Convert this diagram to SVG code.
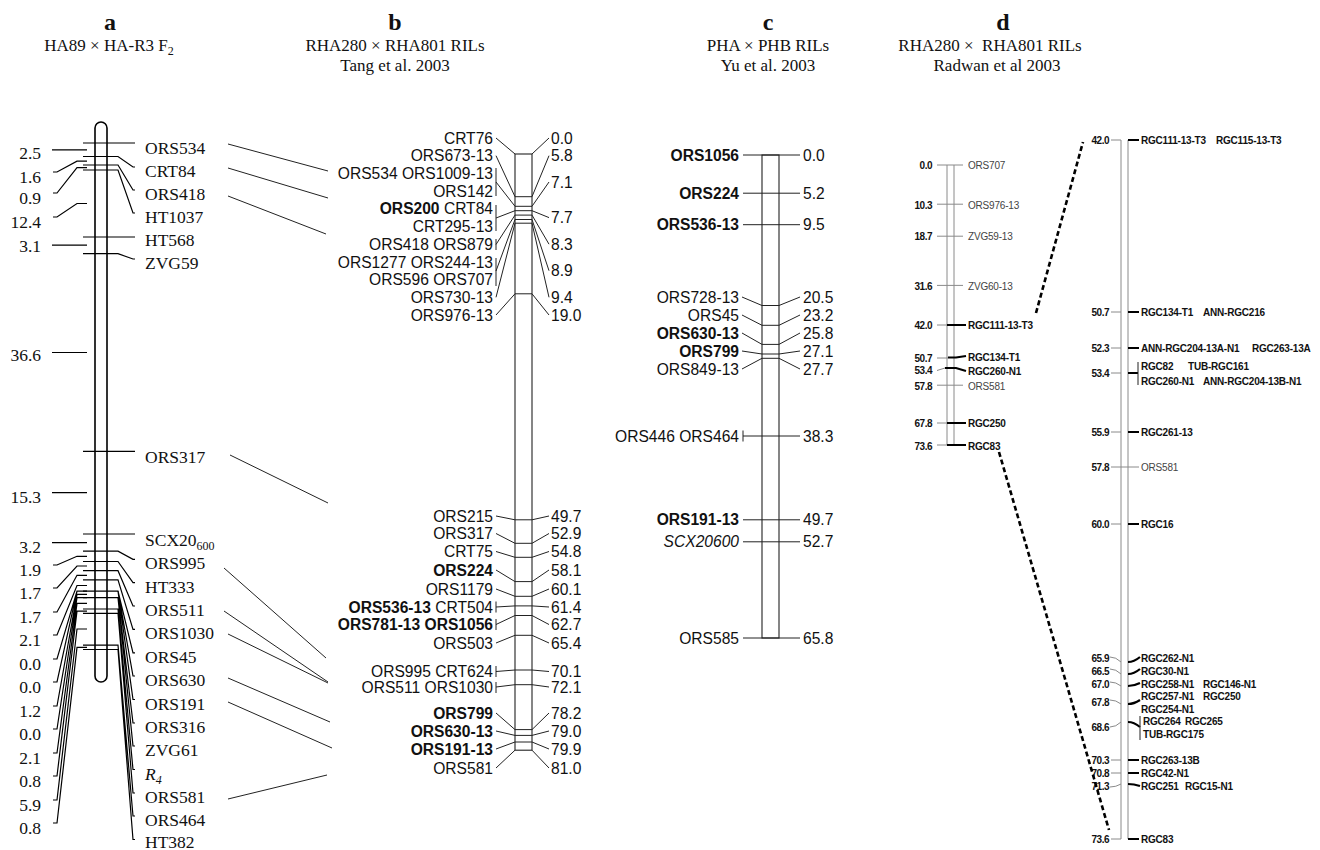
<svg xmlns="http://www.w3.org/2000/svg" width="1320" height="850" viewBox="0 0 1320 850">
<style>
text{fill:#111}
.sa{font-family:"Liberation Serif","Times New Roman",serif;font-size:17.5px}
.hd{font-family:"Liberation Serif","Times New Roman",serif;font-size:24px;font-weight:bold;text-anchor:middle}
.st{font-family:"Liberation Serif","Times New Roman",serif;font-size:17px;text-anchor:middle}
.sb{font-family:"Liberation Sans",Arial,sans-serif;font-size:15.6px;fill:#1e1e1e}
.sd{font-family:"Liberation Sans",Arial,sans-serif;font-size:10px;font-weight:bold;fill:#111;letter-spacing:-0.2px}
.dn{letter-spacing:-0.5px}
.nw{font-weight:normal;fill:#444}
.e{text-anchor:end}
.b{font-weight:bold}
.i{font-style:italic}
.ln{fill:none;stroke:#000;stroke-width:1.2}
.lt{fill:none;stroke:#222;stroke-width:1}
.lg{fill:none;stroke:#8a8a8a;stroke-width:1}
.lk{fill:none;stroke:#000;stroke-width:2.2}
.dash{fill:none;stroke:#000;stroke-width:2.6;stroke-dasharray:5 3}
</style>
<rect width="1320" height="850" fill="#fff"/>

<g id="headers">
<text class="hd" x="110" y="30">a</text>
<text class="st" x="109" y="51">HA89 × HA-R3 F<tspan font-size="12" dy="4">2</tspan></text>
<text class="hd" x="395" y="30">b</text>
<text class="st" x="395" y="51">RHA280 × RHA801 RILs</text>
<text class="st" x="395" y="71">Tang et al. 2003</text>
<text class="hd" x="768" y="30">c</text>
<text class="st" x="768" y="51">PHA × PHB RILs</text>
<text class="st" x="768" y="71">Yu et al. 2003</text>
<text class="hd" x="1003" y="30">d</text>
<text class="st" x="990" y="51">RHA280 ×&#160; RHA801 RILs</text>
<text class="st" x="997" y="71">Radwan et al 2003</text>
</g>

<g id="map-a">
<rect x="95" y="122" width="12" height="560" rx="6" fill="#fff" stroke="#000" stroke-width="1.6"/>
<path class="ln" d="M83,143H135 M83,156.5H118L133,167H135 M83,165H118L133,190H135 M83,170H118L133,213H135 M83,237H135 M83,253.7H118L133,259H135 M83,451.3H135 M83,534H135 M83,551.2H118L133,559.4H135 M83,561.5H118L133,582.7H135 M83,570.7H118L133,606H135 M83,579.9H118L133,629.4H135 M83,591.2H118L133,652.8H135 M118,591.2L133,676H135 M118,591.2L133,699.5H135 M83,597.7H118L133,723H135 M118,597.7L133,746H135 M83,609H118L133,769.5H135 M83,613.3H118L133,793H135 M83,645.2H118L133,816H135 M83,649.5H118L133,839.5H135"/>
<path class="ln" d="M52,149.8H87 M53,172H57L77,161.1H87 M53,193H57L77,167.6H87 M53,217H57L77,203.5H87 M52,245.2H87 M52,352.5H87 M52,492.6H87 M52,542.6H87 M53,565H57L77,556.3H87 M53,588H57L77,566H87 M53,612H57L77,575.3H87 M53,635H57L77,585.5H87 M53,659H57L77,591.2H87 M53,682H57L77,591.2H87 M53,706H57L77,594.4H87 M53,729H57L77,597.7H87 M53,753H57L77,603.4H87 M53,776H57L77,611.1H87 M53,800H57L77,629H87 M53,823H57L77,647.4H87"/>
<g class="sa">
<text x="145" y="154">ORS534</text>
<text x="145" y="177">CRT84</text>
<text x="145" y="200">ORS418</text>
<text x="145" y="223">HT1037</text>
<text x="145" y="246">HT568</text>
<text x="145" y="269">ZVG59</text>
<text x="145" y="463">ORS317</text>
<text x="145" y="546">SCX20<tspan font-size="12" dy="4">600</tspan></text>
<text x="145" y="569.4">ORS995</text>
<text x="145" y="592.7">HT333</text>
<text x="145" y="616">ORS511</text>
<text x="145" y="639.4">ORS1030</text>
<text x="145" y="662.8">ORS45</text>
<text x="145" y="686">ORS630</text>
<text x="145" y="709.5">ORS191</text>
<text x="145" y="733">ORS316</text>
<text x="145" y="756">ZVG61</text>
<text x="145" y="779.5"><tspan class="i">R</tspan><tspan class="i" font-size="12" dy="4">4</tspan></text>
<text x="145" y="803">ORS581</text>
<text x="145" y="826">ORS464</text>
<text x="145" y="848">HT382</text>
</g>
<g class="sa e">
<text x="41" y="159">2.5</text>
<text x="41" y="183">1.6</text>
<text x="41" y="204">0.9</text>
<text x="41" y="228">12.4</text>
<text x="41" y="252">3.1</text>
<text x="41" y="361">36.6</text>
<text x="41" y="503">15.3</text>
<text x="41" y="553">3.2</text>
<text x="41" y="576">1.9</text>
<text x="41" y="599">1.7</text>
<text x="41" y="623">1.7</text>
<text x="41" y="646">2.1</text>
<text x="41" y="670">0.0</text>
<text x="41" y="693">0.0</text>
<text x="41" y="717">1.2</text>
<text x="41" y="740">0.0</text>
<text x="41" y="764">2.1</text>
<text x="41" y="787">0.8</text>
<text x="41" y="811">5.9</text>
<text x="41" y="834">0.8</text>
</g>
</g>

<g id="map-b">
<rect x="515" y="154" width="17" height="596.2" fill="#fff" stroke="#222" stroke-width="1.1"/>
<path class="lt" d="M515,196.7H532 M515,206.3H532 M515,210.7H532 M515,215.1H532 M515,219.5H532 M515,223.2H532 M515,293.8H532 M515,519.8H532 M515,543.3H532 M515,557.3H532 M515,581.6H532 M515,596.3H532 M515,605.9H532 M515,615.5H532 M515,635.3H532 M515,670H532 M515,684.7H532 M515,729.6H532 M515,735.4H532 M515,742H532"/>
<path class="lt" d="M496,138L515,154 M496,155.7L515,196.7 M496,168V196 M496,182L515,206.3 M496,205V231 M496,218L515,210.7 M496,239V250 M496,244.5L515,215.1 M496,258V286 M496,271L515,219.5 M496,297.3L515,223.2 M496,315L515,293.8 M496,516L515,519.8 M496,533.5L515,543.3 M496,551.5L515,557.3 M496,570L515,581.6 M496,589L515,596.3 M496,601.5V612.5 M496,607L515,605.9 M496,619V630 M496,624.5L515,615.5 M496,643L515,635.3 M496,666V677 M496,671.5L515,670 M496,682V693 M496,687L515,684.7 M496,713L515,729.6 M496,731L515,735.4 M496,749L515,742 M496,768L515,750.2"/>
<path class="lt" d="M532,154L549,138 M532,196.7L549,155.7 M532,206.3L549,182 M532,210.7L549,217.6 M532,215.1L549,244.2 M532,219.5L549,270.7 M532,223.2L549,297.3 M532,293.8L549,315 M532,519.8L549,516 M532,543.3L549,533.5 M532,557.3L549,551.5 M532,581.6L549,570 M532,596.3L549,589 M532,605.9L549,607 M532,615.5L549,624.5 M532,635.3L549,643 M532,670L549,671.5 M532,684.7L549,687 M532,729.6L549,713 M532,735.4L549,731 M532,742L549,749 M532,750.2L549,768"/>
<g class="sb e">
<text x="493" y="143.6">CRT76</text>
<text x="493" y="161.3">ORS673-13</text>
<text x="493" y="179">ORS534 ORS1009-13</text>
<text x="493" y="196.7">ORS142</text>
<text x="493" y="214.4"><tspan class="b">ORS200</tspan> CRT84</text>
<text x="493" y="232.1">CRT295-13</text>
<text x="493" y="249.8">ORS418 ORS879</text>
<text x="493" y="267.5">ORS1277 ORS244-13</text>
<text x="493" y="285.2">ORS596 ORS707</text>
<text x="493" y="302.9">ORS730-13</text>
<text x="493" y="320.6">ORS976-13</text>
<text x="493" y="521.6">ORS215</text>
<text x="493" y="539.1">ORS317</text>
<text x="493" y="557.1">CRT75</text>
<text x="493" y="575.6" class="b">ORS224</text>
<text x="493" y="594.6">ORS1179</text>
<text x="493" y="612.6"><tspan class="b">ORS536-13</tspan> CRT504</text>
<text x="493" y="630.1" class="b">ORS781-13 ORS1056</text>
<text x="493" y="648.6">ORS503</text>
<text x="493" y="677.1">ORS995 CRT624</text>
<text x="493" y="692.6">ORS511 ORS1030</text>
<text x="493" y="718.6" class="b">ORS799</text>
<text x="493" y="736.6" class="b">ORS630-13</text>
<text x="493" y="754.6" class="b">ORS191-13</text>
<text x="493" y="773.6">ORS581</text>
</g>
<g class="sb">
<text x="551" y="143.6">0.0</text>
<text x="551" y="161.3">5.8</text>
<text x="551" y="187.6">7.1</text>
<text x="551" y="223.2">7.7</text>
<text x="551" y="249.8">8.3</text>
<text x="551" y="276.3">8.9</text>
<text x="551" y="302.9">9.4</text>
<text x="551" y="320.6">19.0</text>
<text x="551" y="521.6">49.7</text>
<text x="551" y="539.1">52.9</text>
<text x="551" y="557.1">54.8</text>
<text x="551" y="575.6">58.1</text>
<text x="551" y="594.6">60.1</text>
<text x="551" y="612.6">61.4</text>
<text x="551" y="630.1">62.7</text>
<text x="551" y="648.6">65.4</text>
<text x="551" y="677.1">70.1</text>
<text x="551" y="692.6">72.1</text>
<text x="551" y="718.6">78.2</text>
<text x="551" y="736.6">79.0</text>
<text x="551" y="754.6">79.9</text>
<text x="551" y="773.6">81.0</text>
</g>
</g>

<g id="map-c">
<rect x="762" y="155" width="17" height="483" fill="#fff" stroke="#222" stroke-width="1.1"/>
<path class="lt" d="M743,155H800 M743,193.2H800 M743,224.7H800 M762,305.5H779 M762,325.3H779 M762,344.4H779 M762,354H779 M762,358.3H779 M743,436H800 M743,430.5V441.5 M743,519.8H800 M743,541.8H800 M743,638H800"/>
<path class="lt" d="M742,297L762,305.5 M742,315L762,325.3 M742,333L762,344.4 M742,351L762,354 M742,369L762,358.3 M779,305.5L800,297 M779,325.3L800,315 M779,344.4L800,333 M779,354L800,351 M779,358.3L800,369"/>
<g class="sb e">
<text x="739" y="160.6" class="b">ORS1056</text>
<text x="739" y="198.8" class="b">ORS224</text>
<text x="739" y="230.3" class="b">ORS536-13</text>
<text x="739" y="302.6">ORS728-13</text>
<text x="739" y="320.6">ORS45</text>
<text x="739" y="338.6" class="b">ORS630-13</text>
<text x="739" y="356.6" class="b">ORS799</text>
<text x="739" y="374.6">ORS849-13</text>
<text x="739" y="441.6">ORS446 ORS464</text>
<text x="739" y="525.4" class="b">ORS191-13</text>
<text x="739" y="547.4" class="i">SCX20600</text>
<text x="739" y="643.6">ORS585</text>
</g>
<g class="sb">
<text x="803" y="160.6">0.0</text>
<text x="803" y="198.8">5.2</text>
<text x="803" y="230.3">9.5</text>
<text x="803" y="302.6">20.5</text>
<text x="803" y="320.6">23.2</text>
<text x="803" y="338.6">25.8</text>
<text x="803" y="356.6">27.1</text>
<text x="803" y="374.6">27.7</text>
<text x="803" y="441.6">38.3</text>
<text x="803" y="525.4">49.7</text>
<text x="803" y="547.4">52.7</text>
<text x="803" y="643.6">65.8</text>
</g>
</g>

<g id="map-d-left">
<path class="lg" d="M947,165V445 M954,165V445"/>
<path class="lg" d="M937,165H963 M937,204.2H963 M937,236.2H963 M937,285.4H963 M937,385.2H963 M937,325H947 M937,358H948 M937,370.5L945,368 M937,423H947 M937,445H947"/>
<path class="lk" d="M947,325H966 M948,357.5H956L966,356 M945,368H956L966,371 M947,423H966 M947,445H966"/>
<g class="sd e dn">
<text x="932" y="168.6">0.0</text>
<text x="932" y="208.6">10.3</text>
<text x="932" y="239.6">18.7</text>
<text x="932" y="289.6">31.6</text>
<text x="932" y="328.6">42.0</text>
<text x="932" y="361.6">50.7</text>
<text x="932" y="373.6">53.4</text>
<text x="932" y="389.6">57.8</text>
<text x="932" y="427.1">67.8</text>
<text x="932" y="449.6">73.6</text>
</g>
<g class="sd">
<text x="968" y="168.6" class="nw">ORS707</text>
<text x="968" y="208.6" class="nw">ORS976-13</text>
<text x="968" y="239.6" class="nw">ZVG59-13</text>
<text x="968" y="289.6" class="nw">ZVG60-13</text>
<text x="968" y="328.6">RGC111-13-T3</text>
<text x="968" y="360.6">RGC134-T1</text>
<text x="968" y="374.6">RGC260-N1</text>
<text x="968" y="389.6" class="nw">ORS581</text>
<text x="968" y="427.1">RGC250</text>
<text x="968" y="449.6">RGC83</text>
</g>
</g>

<g id="map-d-right">
<path class="lg" d="M1121,140V839 M1128,140V839"/>
<path class="lg" d="M1111,140H1121 M1111,312H1121 M1111,348H1121 M1111,373H1121 M1111,432H1121 M1111,467H1139 M1111,524H1121 M1110,657Q1116,657 1121,662 M1110,669Q1116,669 1121,674 M1110,682Q1116,682 1121,686 M1110,700Q1116,700 1121,704 M1110,727Q1116,727 1121,722 M1111,760H1121 M1111,773H1121 M1110,787Q1116,787 1121,784 M1111,839H1121"/>
<path class="lk" d="M1128,140H1139 M1128,312H1139 M1128,348H1139 M1128,373H1138 M1128,432H1139 M1128,524H1139 M1128,662Q1134,662 1140,657 M1128,674Q1134,674 1140,669 M1128,686Q1134,686 1140,683 M1128,704Q1134,704 1140,700 M1128,722Q1134,722 1140,727 M1128,760H1139 M1128,773H1139 M1128,784Q1134,784 1140,786 M1128,839H1139"/>
<path class="lt" d="M1138,362V385 M1140,716V740"/>
<g class="sd e dn">
<text x="1109" y="143.6">42.0</text>
<text x="1109" y="315.6">50.7</text>
<text x="1109" y="351.6">52.3</text>
<text x="1109" y="376.6">53.4</text>
<text x="1109" y="435.6">55.9</text>
<text x="1109" y="470.6">57.8</text>
<text x="1109" y="527.6">60.0</text>
<text x="1109" y="661.6">65.9</text>
<text x="1109" y="674.6">66.5</text>
<text x="1109" y="687.6">67.0</text>
<text x="1109" y="705.6">67.8</text>
<text x="1109" y="730.6">68.6</text>
<text x="1109" y="763.6">70.3</text>
<text x="1109" y="776.6">70.8</text>
<text x="1109" y="789.6">71.3</text>
<text x="1109" y="842.6">73.6</text>
</g>
<g class="sd">
<text x="1141" y="143.6">RGC111-13-T3<tspan x="1216">RGC115-13-T3</tspan></text>
<text x="1141" y="315.6">RGC134-T1<tspan x="1203">ANN-RGC216</tspan></text>
<text x="1141" y="351.6">ANN-RGC204-13A-N1<tspan x="1252">RGC263-13A</tspan></text>
<text x="1141" y="369.6">RGC82<tspan x="1188">TUB-RGC161</tspan></text>
<text x="1141" y="384.6">RGC260-N1<tspan x="1203">ANN-RGC204-13B-N1</tspan></text>
<text x="1141" y="435.6">RGC261-13</text>
<text x="1141" y="470.6" class="nw">ORS581</text>
<text x="1141" y="527.6">RGC16</text>
<text x="1141" y="661.6">RGC262-N1</text>
<text x="1141" y="674.6">RGC30-N1</text>
<text x="1141" y="687.6">RGC258-N1<tspan x="1203">RGC146-N1</tspan></text>
<text x="1141" y="699.6">RGC257-N1<tspan x="1203">RGC250</tspan></text>
<text x="1141" y="712.6">RGC254-N1</text>
<text x="1143" y="724.6">RGC264<tspan x="1185">RGC265</tspan></text>
<text x="1143" y="737.6">TUB-RGC175</text>
<text x="1141" y="763.6">RGC263-13B</text>
<text x="1141" y="776.6">RGC42-N1</text>
<text x="1141" y="789.6">RGC251<tspan x="1185">RGC15-N1</tspan></text>
<text x="1141" y="842.6">RGC83</text>
</g>
</g>

<g id="connectors">
<path class="lt" d="M228,144L328,171 M228,168L328,198 M228,196L326,234 M230,455L328,503 M224,568L326,658 M224,611L328,682 M228,634L328,683 M228,678L330,722 M228,702L332,748 M228,799L327,775"/>
<path class="dash" d="M1036,313L1083,142 M999,452L1109,830"/>
</g>
</svg>
